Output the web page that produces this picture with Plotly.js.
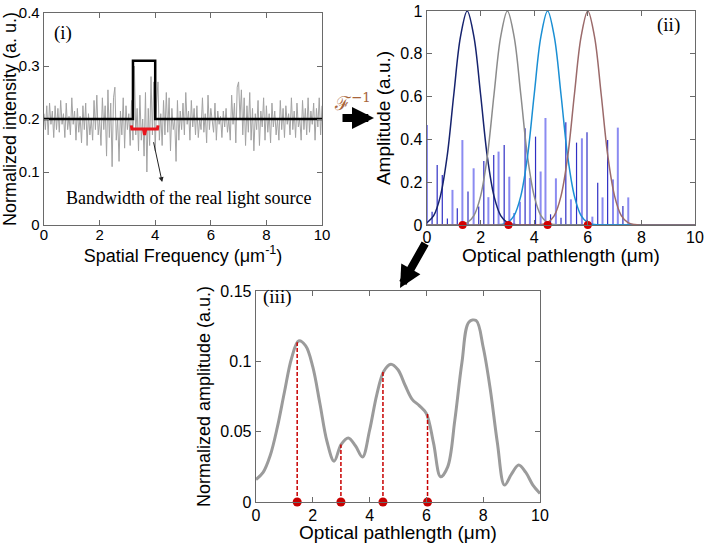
<!DOCTYPE html>
<html><head><meta charset="utf-8">
<script src="https://cdn.plot.ly/plotly-3.0.1.min.js"></script>
<style>html,body{margin:0;padding:0;background:#fff}#chart{width:709px;height:543px}</style>
</head><body><div id="chart"></div>
<script>
// ---------- Panel (i): spectrum ----------
const noiseStep = 0.05;
const noiseVals = [
0.21,0.18,0.225,0.17,0.23,0.19,0.215,0.165,0.225,0.18,
0.22,0.175,0.235,0.19,0.21,0.165,0.23,0.18,0.205,0.17,
0.24,0.19,0.215,0.16,0.22,0.175,0.205,0.155,0.225,0.18,
0.23,0.15,0.21,0.17,0.2,0.16,0.235,0.18,0.245,0.17,
0.2,0.15,0.24,0.18,0.225,0.13,0.255,0.165,0.23,0.11,
0.24,0.26,0.16,0.2,0.12,0.215,0.17,0.24,0.145,0.225,
0.18,0.21,0.15,0.235,0.16,0.3,0.17,0.22,0.14,0.245,
0.16,0.2,0.13,0.25,0.1,0.22,0.15,0.28,0.17,0.27,
0.14,0.23,0.27,0.16,0.21,0.15,0.235,0.17,0.25,0.175,
0.24,0.14,0.22,0.18,0.2,0.12,0.235,0.16,0.215,0.18,
0.23,0.17,0.25,0.19,0.215,0.16,0.235,0.185,0.22,0.17,
0.225,0.165,0.2,0.18,0.24,0.175,0.21,0.155,0.245,0.18,
0.22,0.2,0.175,0.23,0.16,0.215,0.19,0.205,0.165,0.215,
0.185,0.22,0.175,0.2,0.16,0.245,0.19,0.23,0.155,0.26,
0.27,0.2,0.255,0.17,0.24,0.15,0.225,0.175,0.25,0.16,
0.22,0.14,0.21,0.18,0.235,0.15,0.215,0.185,0.24,0.16,
0.225,0.175,0.21,0.155,0.23,0.185,0.215,0.17,0.2,0.16,
0.235,0.18,0.22,0.165,0.225,0.19,0.21,0.17,0.24,0.18,
0.215,0.165,0.23,0.185,0.2,0.16,0.235,0.18,0.22,0.17,
0.24,0.175,0.215,0.19,0.23,0.16,0.22,0.185,0.24,0.17,0.225];
const sourceX = [0, 3.2, 3.2, 4.0, 4.0, 10];
const sourceY = [0.2, 0.2, 0.31, 0.31, 0.2, 0.2];
const bracketX = [3.14, 3.16, 3.58, 3.62, 3.66, 4.08, 4.1];
const bracketY = [0.188, 0.181, 0.181, 0.170, 0.181, 0.181, 0.188];

// ---------- Panel (ii): coherence functions ----------
const gridStep = 0.25;
const coh1 = [0.011,0.044,0.135,0.32,0.61,0.88,1,0.88,0.61,0.32,0.135,0.044,0.011,0.002,
  0,0,0,0,0,0,0,0,0,0,0,0,0,0,0,0,0,0,0,0,0,0,0,0,0,0,0];
const coh2 = [0,0,0,0,0,0.002,0.011,0.044,0.135,0.32,0.61,0.88,1,0.88,0.61,0.32,0.135,0.044,0.011,0.002,
  0,0,0,0,0,0,0,0,0,0,0,0,0,0,0,0,0,0,0,0,0];
const coh3 = [0,0,0,0,0,0,0,0,0,0,0,0.002,0.011,0.044,0.135,0.32,0.61,0.88,1,0.88,0.61,0.32,0.135,0.044,0.011,0.002,
  0,0,0,0,0,0,0,0,0,0,0,0,0,0,0];
const coh4 = [0,0,0,0,0,0,0,0,0,0,0,0,0,0,0,0,0,0.002,0.011,0.044,0.135,0.32,0.61,0.88,1,0.88,0.61,0.32,0.135,0.044,0.011,0.002,
  0,0,0,0,0,0,0,0,0];
const stemX = [0,0.19,0.38,0.57,0.76,0.95,1.13,1.32,1.53,1.74,1.93,2.12,2.29,2.49,2.67,2.88,3.07,3.25,3.47,3.66,
  3.84,4.05,4.24,4.42,4.61,4.81,5.0,5.18,5.37,5.58,5.78,5.97,6.17,6.37,6.55,6.74,6.94,7.12,7.31,7.51];
const stemH = [0.467,0.062,0.28,0.234,0.03,0.164,0.078,0.397,0.156,0.265,0.086,0.299,0.13,0.327,0.343,0.374,0.226,0.056,0.109,0.452,
  0.22,0.413,0.25,0.5,0.05,0.218,0.034,0.48,0.12,0.385,0.405,0.433,0.039,0.198,0.129,0.397,0.213,0.455,0.089,0.129];
const stemTone = ['L','D','D','D','D','L','D','L','D','L','D','D','L','D','L','D','L','L','L','D',
  'L','D','L','L','D','L','D','D','L','D','L','D','L','D','L','D','L','L','D','L'];
const layerX2 = [1.33, 3.04, 4.5, 6.0];

// ---------- Panel (iii): measured amplitude ----------
const measStep = 0.25;
const measAmp = [0.016,0.021,0.033,0.053,0.078,0.102,0.1145,0.111,0.096,0.07,0.043,0.029,
  0.041,0.0455,0.04,0.032,0.051,0.076,0.093,0.098,0.094,0.083,0.073,0.0685,0.0628,0.042,
  0.018,0.025,0.058,0.099,0.128,0.129,0.11,0.08,0.042,0.012,0.02,0.0263,0.021,0.012,0.006];
const layerX3 = [1.45, 2.99, 4.47, 6.04];
const layerAmp3 = [0.1135, 0.0408, 0.093, 0.0628];

// ---------- build traces ----------
const idxGrid = (arr, step) => arr.map((_, i) => +(i * step).toFixed(3));
const stemsXY = (xs, hs, keep) => {
  const X = [], Y = [];
  xs.forEach((x, i) => { if (keep(i)) { X.push(x, x, null); Y.push(0, hs[i], null); } });
  return {X, Y};
};
const light = stemsXY(stemX, stemH, i => stemTone[i] === 'L');
const dark = stemsXY(stemX, stemH, i => stemTone[i] === 'D');
const drop = stemsXY(layerX3, layerAmp3, () => true);
const gx = idxGrid(coh1, gridStep);

const traces = [
  {x: idxGrid(noiseVals, noiseStep), y: noiseVals, mode: 'lines', line: {color: '#a3a3a3', width: 1}, xaxis: 'x', yaxis: 'y'},
  {x: sourceX, y: sourceY, mode: 'lines', line: {color: '#000', width: 2.5}, xaxis: 'x', yaxis: 'y'},
  {x: bracketX, y: bracketY, mode: 'lines', line: {color: '#e8141c', width: 3}, xaxis: 'x', yaxis: 'y'},

  {x: light.X, y: light.Y, mode: 'lines', line: {color: 'rgba(110,110,238,0.8)', width: 2}, xaxis: 'x2', yaxis: 'y2'},
  {x: dark.X, y: dark.Y, mode: 'lines', line: {color: '#2f2fc4', width: 1.2}, xaxis: 'x2', yaxis: 'y2'},
  {x: gx, y: coh1, mode: 'lines', line: {color: '#16236e', width: 1.5, shape: 'spline'}, xaxis: 'x2', yaxis: 'y2'},
  {x: gx, y: coh2, mode: 'lines', line: {color: '#8c8c8c', width: 1.5, shape: 'spline'}, xaxis: 'x2', yaxis: 'y2'},
  {x: gx, y: coh3, mode: 'lines', line: {color: '#1a8fd4', width: 1.5, shape: 'spline'}, xaxis: 'x2', yaxis: 'y2'},
  {x: gx, y: coh4, mode: 'lines', line: {color: '#9b6a6a', width: 1.5, shape: 'spline'}, xaxis: 'x2', yaxis: 'y2'},
  {x: layerX2, y: layerX2.map(() => 0), mode: 'markers', marker: {color: '#d40000', size: 8}, cliponaxis: false, xaxis: 'x2', yaxis: 'y2'},

  {x: idxGrid(measAmp, measStep), y: measAmp, mode: 'lines', line: {color: '#9b9b9b', width: 3, shape: 'spline'}, xaxis: 'x3', yaxis: 'y3'},
  {x: drop.X, y: drop.Y, mode: 'lines', line: {color: '#c80000', width: 1.5, dash: '4px,2px'}, xaxis: 'x3', yaxis: 'y3'},
  {x: layerX3, y: layerX3.map(() => 0), mode: 'markers', marker: {color: '#c80000', size: 9}, cliponaxis: false, xaxis: 'x3', yaxis: 'y3'}
];

const W = 709, H = 543;
const px = v => v / W, py = v => 1 - v / H;
const tf = s => ({family: 'Liberation Sans, Arial, sans-serif', size: s, color: '#000'});
const axBase = {
  showgrid: false, zeroline: false, showline: true, linecolor: '#6a6a6a', linewidth: 1.3,
  mirror: 'allticks', ticks: 'inside', ticklen: 5, tickcolor: '#6a6a6a',
  tickfont: tf(15), automargin: false
};
const serif = s => ({family: 'Liberation Serif, Times New Roman, serif', size: s, color: '#000'});

const layout = {
  width: W, height: H, margin: {l: 0, r: 0, t: 0, b: 0},
  paper_bgcolor: '#fff', plot_bgcolor: '#fff', showlegend: false,
  xaxis: Object.assign({}, axBase, {domain: [px(44), px(322)], anchor: 'y', range: [0, 10], dtick: 2,
    ticklabelstandoff: -4,
    title: {text: 'Spatial Frequency (\u03bcm<sup>-1</sup>)', font: tf(18), standoff: 0}}),
  yaxis: Object.assign({}, axBase, {domain: [py(225), py(13)], anchor: 'x', range: [0, 0.4], dtick: 0.1,
    title: {text: 'Normalized intensity (a. u.)', font: tf(18), standoff: 4}}),
  xaxis2: Object.assign({}, axBase, {domain: [px(427), px(695)], anchor: 'y2', range: [0, 10], dtick: 2,
    tickfont: tf(16), ticklabelstandoff: -3,
    title: {text: 'Optical pathlength (\u03bcm)', font: tf(19), standoff: 2}}),
  yaxis2: Object.assign({}, axBase, {domain: [py(225), py(11)], anchor: 'x2', range: [0, 1], dtick: 0.2,
    tickfont: tf(16),
    title: {text: 'Amplitude (a.u.)', font: tf(19), standoff: 4}}),
  xaxis3: Object.assign({}, axBase, {domain: [px(256), px(540)], anchor: 'y3', range: [0, 10], dtick: 2,
    tickfont: tf(16), ticklabelstandoff: -2,
    title: {text: 'Optical pathlength (\u03bcm)', font: tf(19), standoff: 2}}),
  yaxis3: Object.assign({}, axBase, {domain: [py(502), py(291)], anchor: 'x3', range: [0, 0.15], dtick: 0.05,
    tickfont: tf(16),
    title: {text: 'Normalized amplitude (a.u.)', font: tf(18), standoff: 5}}),
  annotations: [
    {xref: 'x', yref: 'y', x: 0.67, y: 0.362, text: '(i)', showarrow: false, font: serif(19)},
    {xref: 'x', yref: 'y', x: 5.2, y: 0.051, text: 'Bandwidth of the real light source', showarrow: false, font: serif(18)},
    {xref: 'x', yref: 'y', x: 4.25, y: 0.081, ax: 3.93, ay: 0.159, axref: 'x', ayref: 'y', text: '',
      showarrow: true, arrowhead: 2, arrowsize: 1, arrowwidth: 1, arrowcolor: '#222'},
    {xref: 'x2', yref: 'y2', x: 9.0, y: 0.935, text: '(ii)', showarrow: false, font: serif(19)},
    {xref: 'x3', yref: 'y3', x: 0.75, y: 0.1457, text: '(iii)', showarrow: false, font: serif(19)},
    {xref: 'paper', yref: 'paper', x: px(352), y: py(88), text: '\u2131<sup>\u22121</sup>', showarrow: false,
      font: {family: 'DejaVu Serif, serif', size: 19, color: '#a8643a'}},
    {xref: 'paper', yref: 'paper', x: px(374), y: py(118), ax: -33, ay: 0, text: '', showarrow: true,
      arrowhead: 2, arrowsize: 0.55, arrowwidth: 8, arrowcolor: '#000'},
    {xref: 'paper', yref: 'paper', x: px(400), y: py(288), ax: 26, ay: -46, text: '', showarrow: true,
      arrowhead: 2, arrowsize: 0.55, arrowwidth: 8, arrowcolor: '#000'}
  ]
};

Plotly.newPlot('chart', traces, layout, {displayModeBar: false, staticPlot: true});
</script>
</body></html>
